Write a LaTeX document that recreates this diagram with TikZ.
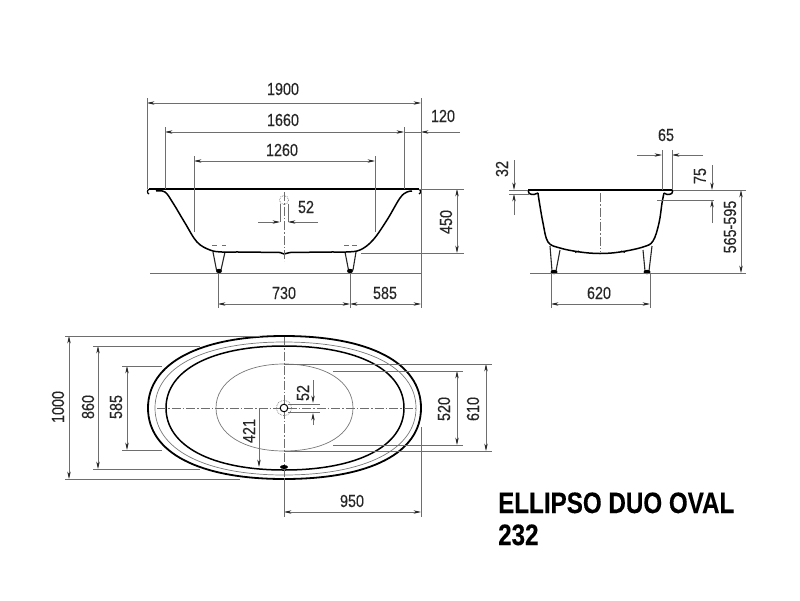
\documentclass[tikz,border=0pt]{standalone}
\usepackage{fontspec}
\setmainfont[FakeStretch=0.82,FakeBold=0.25]{Liberation Sans}
\usetikzlibrary{arrows.meta}
\definecolor{dimgray}{RGB}{110,110,110}
\definecolor{basingray}{RGB}{120,120,120}
\newcommand{\sizelabel}{\fontsize{17.5}{17.5}\selectfont}
\newcommand{\sizetitle}{\fontsize{29.5}{29.5}\selectfont\bfseries}
\tikzset{
    >={Stealth[length=7.5pt,width=3.4pt,color=black!85]},
    tub/.style={draw=black, line width=1.5pt, line join=round},
    thinline/.style={draw=basingray, line width=0.7pt},
    extline/.style={draw=dimgray, line width=0.6pt},
    dimline/.style={extline, <->},
    dimin/.style={extline, ->},
    axisline/.style={draw=dimgray, line width=0.6pt, dash pattern=on 9pt off 2pt on 1.5pt off 2pt},
    size/.style={inner sep=0pt, text=black!85, font=\sizelabel},
    sizev/.style={size, rotate=90},
    foot/.style={draw=black!85, line width=1.1pt, fill=white, line join=round},
    blob/.style={fill=black, draw=none},
    title/.style={anchor=base west, inner sep=0pt, font=\sizetitle, text=black}
}
\begin{document}
\begin{tikzpicture}[x=1pt,y=-1pt]
    \useasboundingbox (0,0) rectangle (800,600);

    % front view
    \coordinate (f-l) at (149,189);
    \coordinate (f-r) at (419,189);
    \coordinate (f-ll) at (165,189);
    \coordinate (f-rr) at (404,189);
    \draw[tub] (f-l) -- (f-r);
    \draw[foot] (213,252) -- (216.5,270) -- (221,270) -- (225,252);
    \draw[foot] (345,252) -- (348.5,270) -- (353,270) -- (356,252);
    \path[blob] (219,271) ellipse (3 and 2.2) (350,271) ellipse (3 and 2.2);
    \draw[extline] (212,245.5) -- (217,245.5) (222,245.5) -- (226,245.5) (344,245.5) -- (349,245.5) (352,245.5) -- (357,245.5);
    \draw[tub, line width=1.2pt] (149,189.5) .. controls (147,189.5) and (147,193.5) .. (149,194)
        (419,189.5) .. controls (421,189.5) and (421,193.5) .. (419,194);
    \draw[tub] plot[smooth, tension=0.6] coordinates {(156,191) (165,192) (173,203) (185,223)
        (197,242) (210,250) (222,252) (240,252) (280,252.5)};
    \draw[tub] plot[smooth, tension=0.6] coordinates {(412,191) (407,192) (400,198) (387,220)
        (373,240) (360,250) (346,252) (330,252) (290,252.5)};
    \draw[tub] (280,252.5) -- (284,254) -- (290,252.5);

    % front view sizes
    \coordinate (d1900-l) at (147,103);
    \coordinate (d1900-r) at (421,103);
    \coordinate (d1660-l) at (165,132);
    \coordinate (d1660-r) at (404,132);
    \coordinate (d1260-l) at (194,161);
    \coordinate (d1260-r) at (375,161);
    \coordinate (d120-e) at (460,132);
    \coordinate (d120-m) at (421,132);
    \draw[dimline] (d1900-l) -- (d1900-r);
    \draw[dimline] (d1660-l) -- (d1660-r);
    \draw[dimline] (d1260-l) -- (d1260-r);
    \draw[dimin] (d120-e) -- (d120-m);
    \draw[extline] (d1660-r) -- (d120-m);
    \draw[extline] (147,98) -- (147,189) (421,98) -- (421,308);
    \draw[extline] (165,127) -- (f-ll) (404,127) -- (f-rr);
    \draw[extline] (194,156) -- (194,232) (375,156) -- (375,232);
    \node[size] (l1900) at (283,89) {1900};
    \node[size] (l1660) at (283,120) {1660};
    \node[size] (l1260) at (282,150) {1260};
    \node[size] (l120) at (443,116) {120};

    % overflow
    \draw[thinline, densely dotted] (284,200) circle (4.5);
    \draw[extline] (280,204) -- (280,222) (288,204) -- (288,222);
    \draw[axisline] (284.5,192) -- (284.5,261);
    \coordinate (d52-l) at (280,222);
    \coordinate (d52-r) at (288,222);
    \draw[dimin] (258,222) -- (d52-l);
    \draw[dimin] (318,222) -- (d52-r);
    \node[size] (l52) at (306,207) {52};

    \coordinate (d450-t) at (457,189);
    \coordinate (d450-b) at (457,253);
    \draw[dimline] (d450-t) -- (d450-b);
    \draw[extline] (f-r) -- (464,189) (361,253) -- (464,253);
    \node[sizev] (l450) at (446,222) {450};

    \draw[extline] (150,273) -- (421,273);
    \coordinate (d730-l) at (218,304);
    \coordinate (d730-m) at (350,304);
    \coordinate (d730-r) at (421,304);
    \draw[dimline] (d730-l) -- (d730-m);
    \draw[dimline] (d730-m) -- (d730-r);
    \draw[extline] (218,273) -- (218,308) (350,273) -- (350,308);
    \node[size] (l730) at (284,293) {730};
    \node[size] (l585) at (385,293) {585};

    % side view
    \coordinate (s-l) at (528,190);
    \coordinate (s-r) at (673,190);
    \draw[tub] (s-l) -- (s-r);
    \draw[foot] (550,246) -- (552,271) -- (556,271) -- (560,250);
    \draw[foot] (643,250) -- (645,271) -- (649,271) -- (652,246);
    \path[blob] (554,272) ellipse (3.5 and 2.2) (647,272) ellipse (3.5 and 2.2);
    \draw[foot] (575,252.5) -- (579,251) (621,251) -- (625,252.5);
    \draw[tub] (528,190) .. controls (528,193) and (529,194.5) .. (534,194.5) -- (538,193);
    \draw[tub] (673,190) .. controls (673,193) and (672,194.5) .. (667,194.5) -- (664,193);
    \draw[tub] plot[smooth, tension=0.6] coordinates {(538,193) (539,200) (543,223) (548,242)
        (560,248) (580,252) (600,253.5) (620,252) (643,247) (653,241) (659,223) (662,203) (664,193)};
    \draw[axisline] (600,193) -- (600,252);

    % side view sizes
    \coordinate (d65-l) at (662,155);
    \coordinate (d65-r) at (672,155);
    \draw[dimin] (637,155) -- (d65-l);
    \draw[dimin] (703,155) -- (d65-r);
    \draw[extline] (662,150) -- (662,190) (672,150) -- (672,190);
    \node[size] (l65) at (666,135) {65};

    \coordinate (d32-t) at (514,190);
    \coordinate (d32-b) at (514,194);
    \draw[dimin] (514,160) -- (d32-t);
    \draw[dimin] (514,215) -- (d32-b);
    \draw[extline] (509,190) -- (s-l) (509,194) -- (529,194);
    \node[sizev] (l32) at (502,169) {32};

    \coordinate (d75-t) at (712,190);
    \coordinate (d75-b) at (712,200);
    \draw[dimin] (712,165) -- (d75-t);
    \draw[dimin] (712,223) -- (d75-b);
    \draw[extline] (657,200) -- (714,200);
    \node[sizev] (l75) at (700,176) {75};

    \coordinate (d565-t) at (741,190);
    \coordinate (d565-b) at (741,273);
    \draw[dimline] (d565-t) -- (d565-b);
    \draw[extline] (s-r) -- (746,190) (530,273) -- (746,273);
    \node[sizev] (l565) at (730,227) {565-595};

    \coordinate (d620-l) at (551,304);
    \coordinate (d620-r) at (650,304);
    \draw[dimline] (d620-l) -- (d620-r);
    \draw[extline] (551,273) -- (551,308) (650,273) -- (650,308);
    \node[size] (l620) at (599,293) {620};

    % plan view
    \coordinate (c) at (284,408);
    \draw[tub, line width=1.8pt] (148,408) .. controls (148,363) and (200,336) .. (284,336)
        .. controls (370,336) and (421,363) .. (421,408)
        .. controls (421,453) and (370,479) .. (284,479)
        .. controls (200,479) and (148,453) .. (148,408) -- cycle;
    \draw[thinline] (155,408) .. controls (155,367) and (204,342) .. (284,342)
        .. controls (366,342) and (416,367) .. (416,408)
        .. controls (416,449) and (366,475) .. (284,475)
        .. controls (204,475) and (155,449) .. (155,408) -- cycle;
    \draw[tub] (166,408) .. controls (166,370) and (212,346) .. (284,346)
        .. controls (358,346) and (404,370) .. (404,408)
        .. controls (404,446) and (358,470) .. (284,470)
        .. controls (212,470) and (166,446) .. (166,408) -- cycle;
    \draw[thinline] (216,408) .. controls (216,382) and (244,364) .. (284,364)
        .. controls (326,364) and (353,382) .. (353,408)
        .. controls (353,434) and (326,451) .. (284,451)
        .. controls (244,451) and (216,434) .. (216,408) -- cycle;
    \draw[axisline] (157,408) -- (417,408);
    \draw[axisline] (284.5,337) -- (284.5,478);
    \draw[thinline, densely dotted] (c) circle (7.5);
    \draw[tub, line width=1pt, fill=white] (c) circle (3.8);
    \path[blob] (284,467) ellipse (4 and 2);

    % plan view sizes
    \coordinate (d1000-t) at (69,336);
    \coordinate (d1000-b) at (69,479);
    \coordinate (d860-t) at (98,346);
    \coordinate (d860-b) at (98,469);
    \coordinate (d585-t) at (127,366);
    \coordinate (d585-b) at (127,450);
    \draw[dimline] (d1000-t) -- (d1000-b);
    \draw[dimline] (d860-t) -- (d860-b);
    \draw[dimline] (d585-t) -- (d585-b);
    \draw[extline] (65,336) -- (260,336) (65,479) -- (240,479);
    \draw[extline] (93,346) -- (200,346) (93,469) -- (200,469);
    \draw[extline] (122,366) -- (162,366) (122,450) -- (162,450);
    \node[sizev] (l1000) at (58,407) {1000};
    \node[sizev] (l860) at (88,407) {860};
    \node[sizev] (l585b) at (116,407) {585};

    \coordinate (d421-t) at (259,408);
    \coordinate (d421-b) at (259,467);
    \draw[dimin] (d421-t) -- (d421-b);
    \node[sizev] (l421) at (249,431) {421};

    \coordinate (d52b-t) at (313,403);
    \coordinate (d52b-b) at (313,413);
    \draw[dimin] (313,380) -- (d52b-t);
    \draw[dimin] (313,425) -- (d52b-b);
    \draw[extline] (288,404) -- (320,404) (288,412) -- (320,412);
    \node[sizev] (l52b) at (303,393) {52};

    \coordinate (d520-t) at (457,371);
    \coordinate (d520-b) at (457,445);
    \coordinate (d610-t) at (486,364);
    \coordinate (d610-b) at (486,451);
    \draw[dimline] (d520-t) -- (d520-b);
    \draw[dimline] (d610-t) -- (d610-b);
    \draw[extline] (333,371) -- (463,371) (333,445) -- (463,445);
    \draw[extline] (284,364) -- (492,364) (284,451) -- (492,451);
    \node[sizev] (l520) at (444,409) {520};
    \node[sizev] (l610) at (473,409) {610};

    \coordinate (d950-l) at (284,512);
    \coordinate (d950-r) at (421,512);
    \draw[dimline] (d950-l) -- (d950-r);
    \draw[extline] (284,478) -- (284,517) (421,427) -- (421,517);
    \node[size] (l950) at (352,501) {950};

    % title
    \node[title] (name) at (498,513) {ELLIPSO DUO OVAL};
    \node[title] (code) at (498,545) {232};
\end{tikzpicture}
\end{document}
